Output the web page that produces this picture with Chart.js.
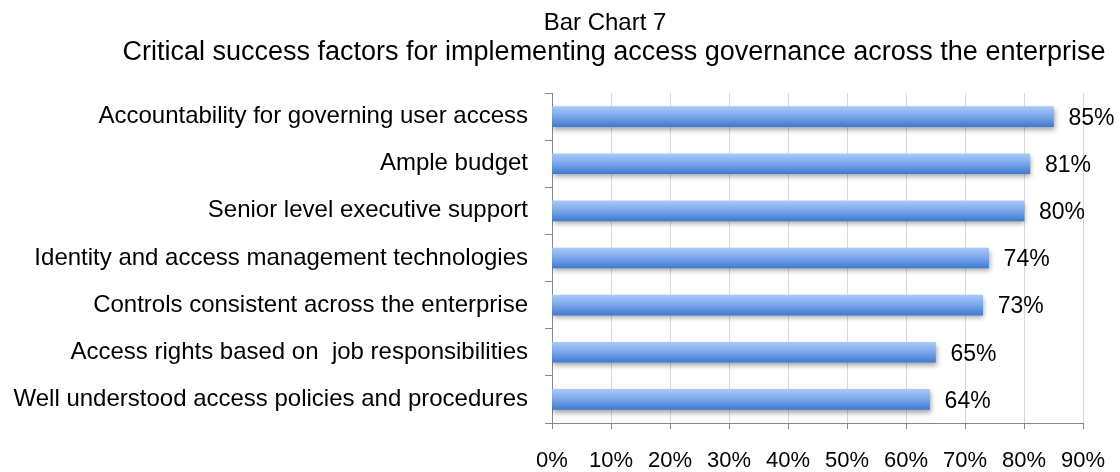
<!DOCTYPE html>
<html>
<head>
<meta charset="utf-8">
<title>Bar Chart 7</title>
<script src="https://cdn.jsdelivr.net/npm/chart.js@4.4.1/dist/chart.umd.min.js"></script>
<style>
    html, body {
        margin: 0;
        padding: 0;
        background: #ffffff;
    }
    #wrap {
        position: relative;
        width: 1120px;
        height: 472px;
        font-family: "Liberation Sans", Arial, sans-serif;
        color: #000;
    }
    .title {
        position: absolute;
        left: 0;
        width: 1120px;
        text-align: center;
        white-space: nowrap;
        line-height: 1;
        box-sizing: border-box;
    }
    #title1 { top: 10px; font-size: 24px; padding-left: 90px; }
    #title2 { top: 38px; font-size: 27px; padding-left: 108px; }
    #chart {
        position: absolute;
        left: 0;
        top: 0;
    }
</style>
</head>
<body>
<div id="wrap">
    <canvas id="chart" width="1120" height="472"></canvas>
    <div class="title" id="title1">Bar Chart 7</div>
    <div class="title" id="title2">Critical success factors for implementing access governance across the enterprise</div>
</div>
<script>
// Survey results (percent of respondents)
const factors = [
    'Accountability for governing user access',
    'Ample budget',
    'Senior level executive support',
    'Identity and access management technologies',
    'Controls consistent across the enterprise',
    'Access rights based on  job responsibilities',
    'Well understood access policies and procedures'
];
const percents = [85, 81, 80, 74, 73, 65, 64];

// Axis range
const axisMin = 0;
const axisMax = 90;
const axisStep = 10;

const BAR_H = 20;
const FONT = '"Liberation Sans", Arial, sans-serif';

// Vertical gradient per bar, light on top, darker at the bottom
function barGradient(context) {
    const chart = context.chart;
    const { ctx, chartArea, scales } = chart;
    if (!chartArea || !scales.y) return '#6f9fe4';
    const y = scales.y.getPixelForValue(context.dataIndex);
    const g = ctx.createLinearGradient(0, y - BAR_H / 2, 0, y + BAR_H / 2);
    g.addColorStop(0, '#a8c9f8');
    g.addColorStop(0.45, '#7eaaec');
    g.addColorStop(1, '#3e7bcf');
    return g;
}

// Soft drop shadow under the bars
const barShadow = {
    id: 'barShadow',
    beforeDatasetsDraw(chart) {
        const ctx = chart.ctx;
        ctx.save();
        ctx.shadowColor = 'rgba(0, 0, 0, 0.35)';
        ctx.shadowBlur = 5;
        ctx.shadowOffsetX = 1;
        ctx.shadowOffsetY = 3;
    },
    afterDatasetsDraw(chart) {
        chart.ctx.restore();
    }
};

// Percent labels right of each bar
const valueLabels = {
    id: 'valueLabels',
    afterDraw(chart) {
        const ctx = chart.ctx;
        const meta = chart.getDatasetMeta(0);
        ctx.save();
        ctx.font = '23px ' + FONT;
        ctx.fillStyle = '#000';
        ctx.textAlign = 'left';
        ctx.textBaseline = 'middle';
        meta.data.forEach((bar, i) => {
            ctx.fillText(percents[i] + '%', bar.x + 15, bar.y + 2);
        });
        ctx.restore();
    }
};

const ctx = document.getElementById('chart');
new Chart(ctx, {
    type: 'bar',
    data: {
        labels: factors,
        datasets: [{
            data: percents,
            backgroundColor: barGradient,
            borderWidth: 0,
            barThickness: BAR_H
        }]
    },
    options: {
        indexAxis: 'y',
        responsive: false,
        animation: false,
        layout: {
            padding: { top: 93, right: 37, bottom: 0, left: 0 }
        },
        plugins: {
            legend: { display: false },
            tooltip: { enabled: false }
        },
        scales: {
            x: {
                min: axisMin,
                max: axisMax,
                afterFit(scale) {
                    scale.height = 49;
                    // edge labels fit inside the layout padding already
                    scale.paddingLeft = 0;
                    scale.paddingRight = 0;
                },
                border: { color: '#868686', width: 1 },
                grid: {
                    color: '#d9d9d9',
                    tickColor: '#868686',
                    tickLength: 6,
                    lineWidth: 1
                },
                ticks: {
                    stepSize: axisStep,
                    color: '#000',
                    padding: 19,
                    font: { family: FONT, size: 22 },
                    callback: function(value) {
                        return value + '%';
                    }
                }
            },
            y: {
                afterFit(scale) { scale.width = 552; },
                border: { color: '#868686', width: 1 },
                grid: {
                    drawOnChartArea: false,
                    tickColor: '#868686',
                    tickLength: 7,
                    offset: true
                },
                ticks: {
                    color: '#000',
                    padding: 17,
                    font: { family: FONT, size: 24 }
                }
            }
        }
    },
    plugins: [barShadow, valueLabels]
});
</script>
</body>
</html>
